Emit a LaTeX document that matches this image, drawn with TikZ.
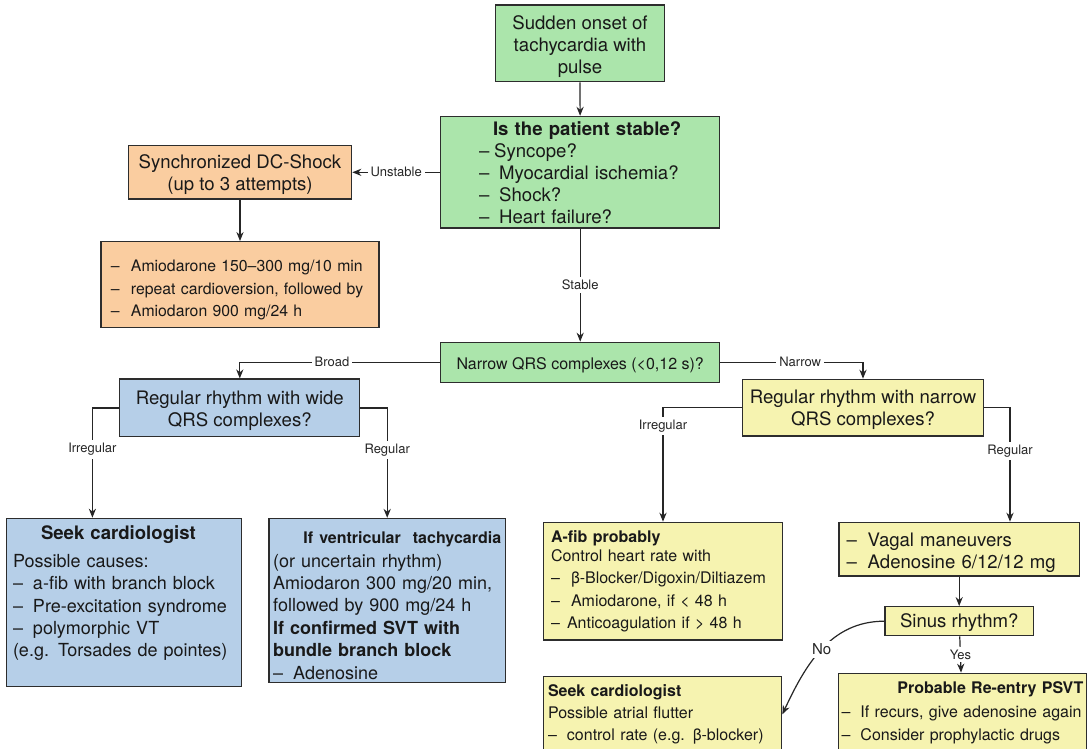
\documentclass[tikz,border=0pt]{standalone}
\usepackage{fontspec}
\setmainfont{TeX Gyre Heros}
\usetikzlibrary{arrows.meta,calc}

\definecolor{boxgreen}{RGB}{171,229,171}
\definecolor{boxorange}{RGB}{250,205,160}
\definecolor{boxblue}{RGB}{182,207,232}
\definecolor{boxyellow}{RGB}{246,243,176}
\definecolor{edgegray}{RGB}{45,45,45}

\newcommand{\itm}[1][10pt]{\makebox[#1][l]{–}}
\newcommand{\mainsize}{\fontsize{9.3}{11}\selectfont}
\newcommand{\midsize}{\fontsize{9}{11.2}\selectfont}
\newcommand{\smallsize}{\fontsize{8}{11.2}\selectfont}
\newcommand{\labelsize}{\fontsize{6.5}{7.5}\selectfont}

\begin{document}
\begin{tikzpicture}[x=0.5pt, y=-0.5pt,
    box/.style={draw=edgegray, line width=0.65pt, inner sep=0pt, text=black!90},
    flow/.style={-{Stealth[length=4.5pt,width=3.6pt]}, line width=0.6pt, black!85},
    lbl/.style={fill=white, font=\labelsize, inner sep=1.5pt, text=black!85}]

    % Fix the page size
    \useasboundingbox (0,0) rectangle (1089,749);
    \clip (0,0) rectangle (1089,749);

    % Top of the chart
    \node[box, fill=boxgreen, minimum width=84.65pt, minimum height=38.35pt, align=center, font=\mainsize] (onset) at (580,43.3) {\rule{0pt}{10.2pt}Sudden onset of\\tachycardia with\\pulse};
    \node[box, fill=boxgreen, minimum width=139.45pt, minimum height=55.85pt, text width=101pt, align=left, font=\mainsize] (stable) at (580.2,172.3) {\hspace*{\fill}\textbf{Is the patient stable?}\hspace*{\fill}\\ \itm[7.5pt]Syncope?\\ \itm Myocardial ischemia?\\ \itm Shock?\\ \itm Heart failure?};

    % Unstable branch
    \node[box, fill=boxorange, minimum width=111.7pt, minimum height=26.85pt, align=center, font=\mainsize] (shock) at (240,172.3) {\rule{0pt}{9.3pt}Synchronized DC-Shock\\(up to 3 attempts)};
    \node[box, fill=boxorange, minimum width=139pt, minimum height=42.8pt, text width=129pt, align=left, font=\fontsize{7.9}{11.3}\selectfont] (amio) at (240,284.5) {\rule{0pt}{11.5pt}\itm Amiodarone 150–300 mg/10 min\\ \itm repeat cardioversion, followed by\\ \itm Amiodaron 900 mg/24 h};

    % QRS question
    \node[box, fill=boxgreen, minimum width=139.45pt, minimum height=20pt, font=\smallsize] (qrs) at (580.2,362.3) {\rule{0pt}{8.8pt}Narrow QRS complexes (<0,12 s)?};

    % Broad QRS side
    \node[box, fill=boxblue, minimum width=120pt, minimum height=28.85pt, align=center, font=\mainsize] (wide) at (239.8,407.9) {\rule{0pt}{9.3pt}Regular rhythm with wide\\QRS complexes?};
    \node[box, fill=boxblue, minimum width=117.75pt, minimum height=84.2pt, text width=111pt, align=left, font=\midsize] (seekWide) at (124,602.5) {\hspace*{14pt}{\mainsize\bfseries Seek cardiologist}\\[2.5pt] Possible causes:\\ \itm a-fib with branch block\\ \itm Pre-excitation syndrome\\ \itm polymorphic VT\\ (e.g. Torsades de pointes)\rule[-11pt]{0pt}{0pt}};
    \node[box, fill=boxblue, minimum width=118.15pt, minimum height=82.1pt, text width=114pt, align=left, font=\midsize] (vt) at (387.2,600.6) {\hspace*{\fill}{\fontsize{8}{10}\selectfont\bfseries\rule{0pt}{10.8pt}If ventricular\ \ tachycardia}\hspace*{\fill}\\[0.6pt] (or uncertain rhythm)\\ Amiodaron 300 mg/20 min,\\ followed by 900 mg/24 h\\ \textbf{If confirmed SVT with}\\ \textbf{bundle branch block}\\ \itm Adenosine};

    % Narrow QRS side
    \node[box, fill=boxyellow, minimum width=120.3pt, minimum height=28.35pt, align=center, font=\mainsize] (narrow) at (863,407.7) {\rule{0pt}{8.8pt}Regular rhythm with narrow\\QRS complexes?};
    \node[box, fill=boxyellow, minimum width=119.7pt, minimum height=58.85pt, text width=112pt, align=left, font=\smallsize] (afib) at (663,581.2) {\textbf{A-fib probably}\\[-1.8pt] Control heart rate with\\ \itm β-Blocker/Digoxin/Diltiazem\\ \itm Amiodarone, if < 48 h\\ \itm[8pt]Anticoagulation if > 48 h};
    \node[box, fill=boxyellow, minimum width=120.15pt, minimum height=26.85pt, text width=112.5pt, align=left, font=\mainsize] (vagal) at (959.2,549.2) {\rule{0pt}{10.3pt}\itm[10.5pt]Vagal maneuvers\\ \itm[10.5pt]Adenosine 6/12/12 mg};
    \node[box, fill=boxyellow, minimum width=74.15pt, minimum height=14.5pt, font=\mainsize] (sinus) at (959.2,621.2) {\rule{0pt}{8pt}Sinus rhythm?};
    \node[box, fill=boxyellow, minimum width=119.2pt, minimum height=37.65pt, text width=114.5pt, align=left, font=\smallsize] (seekNarrow) at (662.5,714.35) {\textbf{Seek cardiologist}\\ Possible atrial flutter\\ \itm[9.5pt]control rate (e.g. β-blocker)};
    \node[box, fill=boxyellow, minimum width=124pt, minimum height=39.35pt, text width=121pt, align=left, font=\smallsize] (psvt) at (962.5,712.65) {\hspace*{\fill}\textbf{Probable Re-entry PSVT}\hspace*{\fill}\\[1pt] \itm[9.5pt]If recurs, give adenosine again\\ \itm[9.5pt]Consider prophylactic drugs};

    % Connectors
    \draw[flow] (onset) -- (stable);
    \draw[flow] (stable.west) -- node[lbl] (lblUnstable) {Unstable} (shock.east);
    \draw[flow] (shock) -- (amio);
    \draw[flow] (stable) -- node[lbl] (lblStable) {Stable} (qrs);
    \draw[flow] (qrs.west) -| node[lbl, pos=0.27] (lblBroad) {Broad} (wide.north);
    \draw[flow] (qrs.east) -| node[lbl, pos=0.28] (lblNarrow) {Narrow} (narrow.north);
    \draw[flow] (wide.west) -| node[lbl, pos=0.69] (lblIrrWide) {Irregular} ($(seekWide.north west)+(86.8,0)$);
    \draw[flow] (wide.east) -| node[lbl, pos=0.69] (lblRegWide) {Regular} (vt.north);
    \draw[flow] (narrow.west) -| node[lbl, pos=0.58] (lblIrrNarrow) {Irregular} (afib.north);
    \draw[flow] (narrow.east) -| node[lbl, pos=0.69] (lblRegNarrow) {Regular} ($(vagal.north)+(50.8,0)$);
    \draw[flow] (vagal) -- (sinus);
    \draw[flow] (sinus) -- node[lbl] (lblYes) {Yes} (psvt);
    \draw[flow] (sinus.west) to[out=180, in=65] node[lbl, font=\fontsize{7.5}{8}\selectfont] (lblNo) {No} (seekNarrow.east);

\end{tikzpicture}
\end{document}
